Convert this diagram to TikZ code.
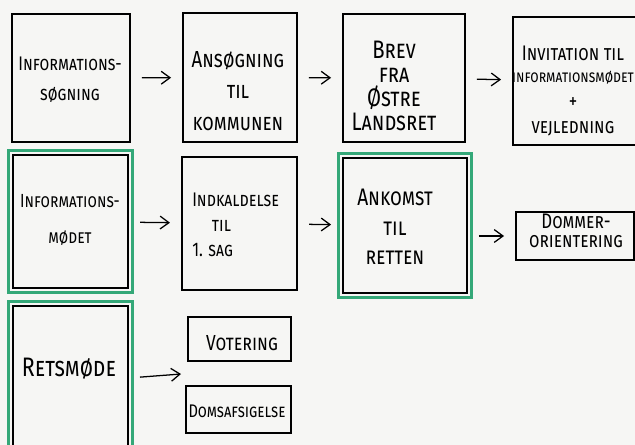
\documentclass[tikz,border=0pt]{standalone}
\usepackage{fontspec}
\usepackage{tikz}
\usetikzlibrary{arrows.meta}
\newfontfamily\hand[Letters=SmallCaps,FakeStretch=0.8]{Fira Sans}
\definecolor{paper}{RGB}{246,246,244}
\definecolor{marker}{RGB}{52,168,120}

\begin{document}
\begin{tikzpicture}[x=0.025cm,y=-0.025cm,
			box/.style={draw=black,line width=1pt,inner sep=0pt},
			txt/.style={align=center,inner sep=0pt,font=\fontsize{#1}{#1}\selectfont\hand},
			txt/.default=14,
			greenframe/.style={draw=marker,line width=2pt},
			flow/.style={-{Straight Barb[length=2.2mm,width=3.2mm]},line width=0.9pt,
				shorten <=0.28cm,shorten >=0.28cm}]
			\fill[paper] (0,0) rectangle (635,445);
			\useasboundingbox (0,0) rectangle (635,445);
			
			% first row
			\node[box,minimum width=2.95cm,minimum height=3.2cm] (a) at (71,78) {};
			\node[txt=14] (a-t) at (70,80) {Informations-\\[7pt]søgning};
			\node[box,minimum width=2.85cm,minimum height=3.22cm] (b) at (240,77.5) {};
			\node[txt=16.5] (b-t) at (238,91) {Ansøgning\\[6pt]til\\[6pt]kommunen};
			\node[box,minimum width=3.05cm,minimum height=3.2cm] (c) at (404,78) {};
			\node[txt=18] (c-t) at (394,86) {Brev\\[-1pt]fra\\[-1pt]Østre\\[-1pt]Landsret};
			\node[box,minimum width=3.5cm,minimum height=3.2cm] (d) at (583,81) {};
			\node[txt=15] (d-t) at (573,91) {Invitation til\\[1pt]{\fontsize{12}{12}\selectfont informationsmødet}\\[3pt]+\\[3pt]vejledning};
			
			% second row
			\node[box,minimum width=2.88cm,minimum height=3.33cm] (e) at (70.5,221.5) {};
			\node[txt=13.5] (e-t) at (70,220) {Informations-\\[12pt]mødet};
			\node[box,minimum width=2.88cm,minimum height=3.33cm] (f) at (239.5,223.5) {};
			\node[txt=14,align=left,anchor=west] (f-t) at (192,225) {Indkaldelse\\[4pt]\hspace{14pt}til\\[4pt]1. sag};
			\node[box,minimum width=3.1cm,minimum height=3.38cm] (g) at (405,225.5) {};
			\node[txt=17] (g-t) at (395,227) {Ankomst\\[4pt]til\\[4pt]retten};
			\node[box,minimum width=2.95cm,minimum height=1.2cm] (h) at (575,236) {};
			\node[txt=15] (h-t) at (576,231) {Dommer-\\[-1.5pt]orientering};
			
			% third row
			\node[box,minimum width=2.88cm,minimum height=3.6cm] (i) at (70.5,378) {};
			\node[txt=19] (i-t) at (69,369) {Retsmøde};
			\node[box,minimum width=2.58cm,minimum height=1.1cm] (j) at (239.5,339) {};
			\node[txt=15.5] (j-t) at (242,343) {Votering};
			\node[box,minimum width=2.63cm,minimum height=1.18cm] (k) at (238.5,409.5) {};
			\node[txt=13] (k-t) at (237,411) {Domsafsigelse};
			\coordinate (split) at (181,374);
			
			% green marker round the meetings
			\foreach \n in {e,g,i}
				\draw[greenframe] ([shift={(-3.5,-3.5)}]\n.north west) rectangle ([shift={(3.5,3.5)}]\n.south east);
			
			\draw[flow] (a) -- (b);
			\draw[flow] (b) -- (c);
			\draw[flow] (c) -- (d);
			\draw[flow] (e) -- (f);
			\draw[flow] (f) -- (g);
			\draw[flow] (g.east |- h.west) -- (h.west);
			\draw[flow,shorten >=0pt] (i.east) -- (split);
		\end{tikzpicture}
\end{document}
